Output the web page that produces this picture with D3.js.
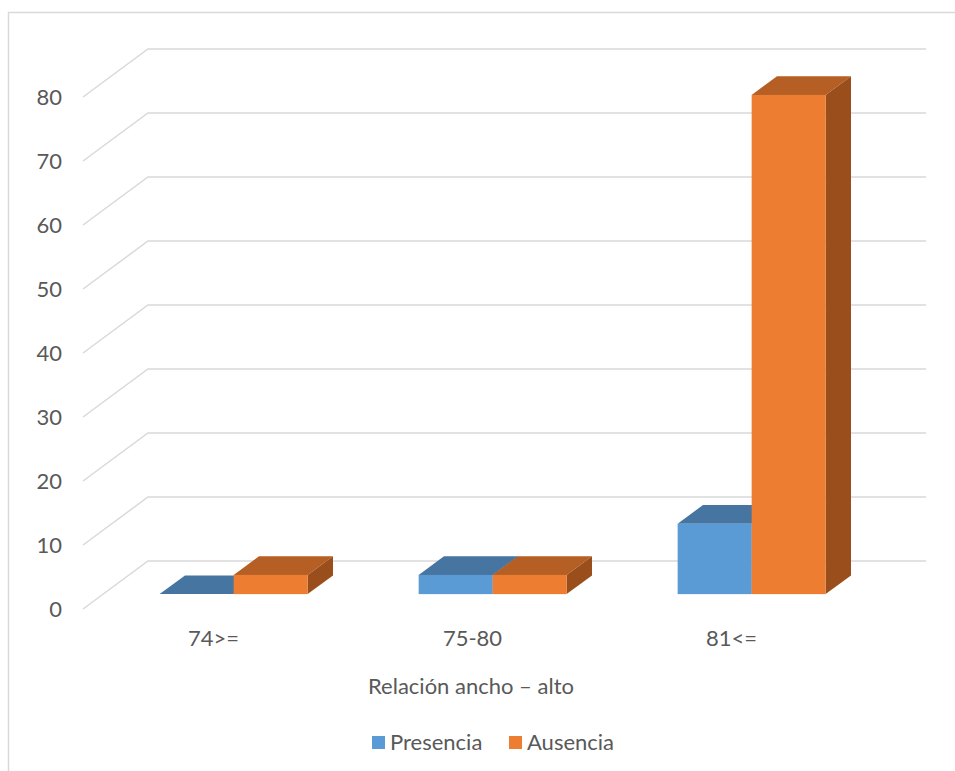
<!DOCTYPE html>
<html lang="es">
<head>
  <meta charset="utf-8">
  <script src="https://d3js.org/d3.v7.min.js"></script>
  <title>Relación ancho – alto</title>
  <style>
    body { margin: 0; background: #fff; }
    text { font-family: Lato, "Open Sans", sans-serif; fill: #595959; }
  </style>
</head>
<body>
<div id="chart"></div>
<script>
  // data
  const categories = ["74>=", "75-80", "81<="];
  const presencia = [0, 3, 11];
  const ausencia = [3, 3, 78];
  const yTicks = [0, 10, 20, 30, 40, 50, 60, 70, 80];
  const seriesNames = ["Presencia", "Ausencia"];

  const W = 955, H = 771;
  // front plane of the 3d box
  const x0 = 84, x1 = 861, floorY = 609, topY = 97;
  // oblique depth of the box
  const depthX = 65, depthY = 48;
  // bars sit between these fractions of the depth
  const barFront = 0.31, barBack = 0.70;

  const colors = [
    { front: "#5B9BD5", top: "#4675A1", side: "#3B648B" },
    { front: "#ED7D31", top: "#B65F24", side: "#9A4E1C" }
  ];

  const svg = d3.select("#chart").append("svg")
    .attr("width", W).attr("height", H);

  // chart border (cut off at right and bottom)
  svg.append("rect")
    .attr("x", 8.5).attr("y", 12.5)
    .attr("width", 1200).attr("height", 1200)
    .attr("fill", "none").attr("stroke", "#d9d9d9").attr("stroke-width", 1.5);

  const x = d3.scaleBand().domain(categories).range([x0, x1]);
  const y = d3.scaleLinear().domain([0, 80]).range([floorY, topY]);

  // gridlines: left wall diagonal + back wall horizontal
  const grid = svg.append("g");
  yTicks.forEach(t => {
    grid.append("path")
      .attr("d", `M${x0 - 1},${y(t)} L${x0 + depthX - 1},${y(t) - depthY} L${x1 + depthX},${y(t) - depthY}`)
      .attr("fill", "none").attr("stroke", "#d9d9d9").attr("stroke-width", 1.5);
  });

  // y labels
  svg.append("g").selectAll("text")
    .data(yTicks).join("text")
    .attr("x", 62).attr("y", d => y(d))
    .attr("dy", "0.36em")
    .attr("text-anchor", "end")
    .style("font-size", "22px")
    .text(d => d);

  // bars
  const inner = d3.scaleBand().domain(seriesNames)
    .range([0, x.bandwidth()]).paddingOuter(0.75).paddingInner(0);
  const fdx = depthX * barFront, fdy = depthY * barFront;
  const bdx = depthX * (barBack - barFront), bdy = depthY * (barBack - barFront);

  const bars = [];
  categories.forEach((c, i) => {
    bars.push({ cat: c, s: 0, v: presencia[i] });
    bars.push({ cat: c, s: 1, v: ausencia[i] });
  });

  const barG = svg.append("g");
  bars.forEach(b => {
    const left = x(b.cat) + inner(seriesNames[b.s]) + fdx;
    const right = left + inner.bandwidth();
    const bottom = y(0) - fdy;
    const top = y(b.v) - fdy;
    const col = colors[b.s];
    const g = barG.append("g");
    // top face
    g.append("path")
      .attr("d", `M${left},${top} L${left + bdx},${top - bdy} L${right + bdx},${top - bdy} L${right},${top} Z`)
      .attr("fill", col.top);
    // side face
    if (b.v > 0) {
      g.append("path")
        .attr("d", `M${right},${top} L${right + bdx},${top - bdy} L${right + bdx},${bottom - bdy} L${right},${bottom} Z`)
        .attr("fill", col.side);
      g.append("rect")
        .attr("x", left).attr("y", top)
        .attr("width", right - left).attr("height", bottom - top)
        .attr("fill", col.front);
    }
  });

  // category labels
  svg.append("g").selectAll("text")
    .data(categories).join("text")
    .attr("x", d => x(d) + x.bandwidth() / 2)
    .attr("y", 646)
    .attr("text-anchor", "middle")
    .style("font-size", "22px")
    .text(d => d);

  // axis title
  svg.append("text")
    .attr("x", 471).attr("y", 694)
    .attr("text-anchor", "middle")
    .style("font-size", "22px")
    .text("Relación ancho – alto");

  // legend
  const legend = svg.append("g");
  const legendX = [372, 509];
  seriesNames.forEach((name, i) => {
    legend.append("rect")
      .attr("x", legendX[i]).attr("y", 736)
      .attr("width", 13).attr("height", 13)
      .attr("fill", colors[i].front);
    legend.append("text")
      .attr("x", legendX[i] + 18).attr("y", 750)
      .style("font-size", "22px")
      .text(name);
  });
</script>
</body>
</html>
